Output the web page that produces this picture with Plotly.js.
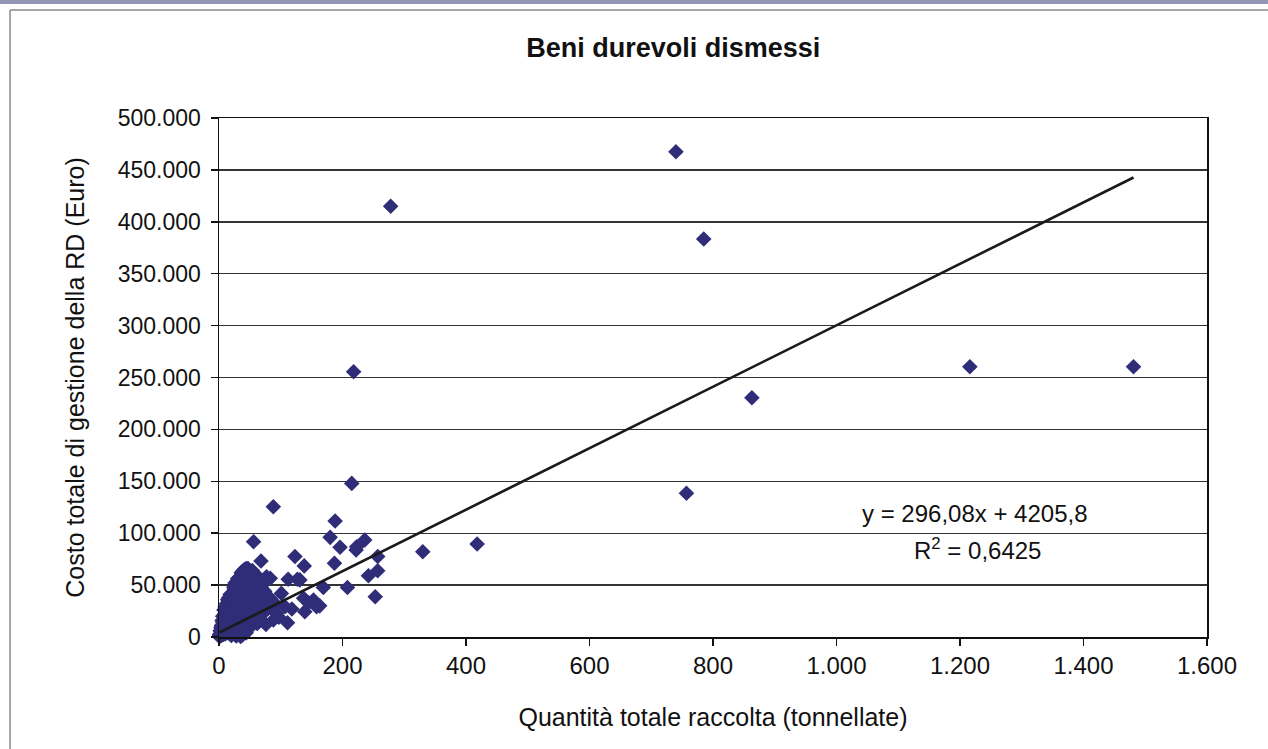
<!DOCTYPE html>
<html><head><meta charset="utf-8">
<script src="https://cdn.plot.ly/plotly-3.0.1.min.js"></script>
<style>html,body{margin:0;padding:0;background:#fff}#chart{width:1268px;height:749px}</style>
</head><body><div id="chart"></div>
<script>
const titleText = "Beni durevoli dismessi";
const xTitle = "Quantità totale raccolta (tonnellate)";
const yTitle = "Costo totale di gestione della RD (Euro)";

// Quantità totale raccolta (tonnellate)
const qty = [
  0.5,1,2,1.5,3,2.5,4,5,4,6,7,8,6,9,10,10,11,12,13,14,15,15,16,17,18,19,20,20,21,22,
  22,23,24,25,25,26,27,28,28,29,30,30,31,32,32,33,34,34,35,36,36,37,38,38,39,40,40,41,42,42,
  43,44,44,45,46,44,47,48,48,49,50,50,52,52,53,54,55,55,56,57,58,58,59,60,60,62,62,64,64,65,
  66,68,68,70,70,72,6,8,3,12,10,14,16,18,24,26,30,38,44,54,60,66,35,62,66,77,70,74,5,9,
  2,1,20,28,33,46,
  88,215,188,180,196,223,236,222,257,123,138,187,257,242,112,127,83,169,208,253,
  101,137,153,158,139,83,93,93,111,88,107,330,418,68,56,218,278,740,785,757,
  863,1216,1481,80,97,118,76,131,163,145
];
// Costo totale di gestione della RD (Euro)
const cost = [
  500,1200,3000,800,5000,2000,1500,8000,11000,4000,2500,9000,14000,6000,12000,3000,18000,8000,22000,15000,4000,27000,11000,32000,20000,6000,38000,14000,25000,42000,
  9000,30000,17000,46000,3000,35000,22000,50000,12000,40000,28000,6000,54000,33000,18000,44000,58000,9000,25000,38000,62000,14000,48000,2000,30000,56000,20000,65000,42000,7000,
  35000,60000,15000,26000,50000,4000,66000,38000,11000,22000,55000,30000,45000,17000,62000,34000,25000,12000,50000,40000,20000,58000,30000,15000,46000,36000,24000,52000,18000,42000,
  28000,34000,48000,22000,40000,30000,20000,26000,9000,32000,29000,36000,38000,41000,48000,52000,56000,63000,66000,64000,60000,55000,500,13000,17000,58000,50000,44000,16000,22000,
  6000,2500,1500,1000,26000,33000,
  125500,148000,111800,96000,86500,87000,93500,83800,77500,77500,68500,71000,63800,59000,55600,55600,56500,47700,47700,38800,
  42000,37300,35600,29200,24400,37300,30800,22800,13800,16400,29200,82200,89600,73200,91800,255600,415000,467500,383500,138500,
  230500,260400,260400,28000,19000,27000,12000,55000,30000,33000
];

// Linear trendline shown on the chart
const slope = 296.08;
const intercept = 4205.8;
const eqText = "y = 296,08x + 4205,8";
const r2Text = "R<sup>2</sup> = 0,6425";

const xMin = Math.min(...qty), xMax = Math.max(...qty);
const trendX = [xMin, xMax];
const trendY = trendX.map(v => slope * v + intercept);

const font = "'Liberation Sans', Arial, Helvetica, sans-serif";

const data = [
  {
    type: 'scatter', mode: 'markers', x: qty, y: cost,
    marker: {symbol: 'diamond', size: 12, color: '#302d78', line: {width: 0}},
    cliponaxis: false, hoverinfo: 'x+y', showlegend: false
  },
  {
    type: 'scatter', mode: 'lines', x: trendX, y: trendY,
    line: {color: '#1a1a1a', width: 2.6}, cliponaxis: false, showlegend: false
  }
];

const layout = {
  width: 1268, height: 749,
  margin: {l: 219, r: 61, t: 118, b: 112},
  paper_bgcolor: '#ffffff', plot_bgcolor: '#ffffff',
  separators: ',.',
  font: {family: font, size: 24, color: '#111'},
  title: {text: '<b>' + titleText + '</b>', font: {family: font, size: 27, color: '#111'},
          x: 0.531, xref: 'container', xanchor: 'center', y: 0.937, yref: 'container', yanchor: 'middle'},
  xaxis: {
    range: [0, 1600], dtick: 200, tick0: 0, tickformat: ',d',
    showgrid: false, zeroline: false,
    showline: true, linecolor: '#111', linewidth: 1.5, mirror: true,
    ticks: 'outside', ticklen: 7, tickcolor: '#111', tickwidth: 1.5,
    tickfont: {family: font, size: 24, color: '#111'},
    title: {text: xTitle, font: {family: font, size: 25, color: '#111'}, standoff: 30}
  },
  yaxis: {
    range: [0, 500000], dtick: 50000, tick0: 0, tickformat: ',d',
    showgrid: true, gridcolor: '#333', gridwidth: 1.4, zeroline: false,
    showline: true, linecolor: '#111', linewidth: 1.5, mirror: true,
    ticks: 'outside', ticklen: 7, tickcolor: '#111', tickwidth: 1.5,
    ticklabelstandoff: 5,
    tickfont: {family: font, size: 23, color: '#111'},
    title: {text: yTitle, font: {family: font, size: 25, color: '#111'}, standoff: 26}
  },
  annotations: [
    {text: eqText, xref: 'paper', yref: 'paper', x: 0.765, y: 0.237, showarrow: false,
     font: {family: font, size: 24, color: '#111'}, xanchor: 'center', yanchor: 'middle'},
    {text: r2Text, xref: 'paper', yref: 'paper', x: 0.768, y: 0.170, showarrow: false,
     font: {family: font, size: 24, color: '#111'}, xanchor: 'center', yanchor: 'middle'}
  ],
  shapes: [
    {type: 'rect', xref: 'paper', yref: 'paper', x0: -0.2217, x1: 1.0617, y0: 1.2197, y1: 1.2274,
     fillcolor: '#9494b6', line: {width: 0}},
    {type: 'line', xref: 'paper', yref: 'paper', x0: -0.2115, x1: 1.0617, y0: 1.2081, y1: 1.2081,
     line: {color: '#8a8a8a', width: 1.5}},
    {type: 'line', xref: 'paper', yref: 'paper', x0: -0.2115, x1: -0.2115, y0: 1.2081, y1: -0.2158,
     line: {color: '#8a8a8a', width: 1.5}}
  ]
};

Plotly.newPlot('chart', data, layout, {displayModeBar: false, staticPlot: true});
</script>
</body></html>
